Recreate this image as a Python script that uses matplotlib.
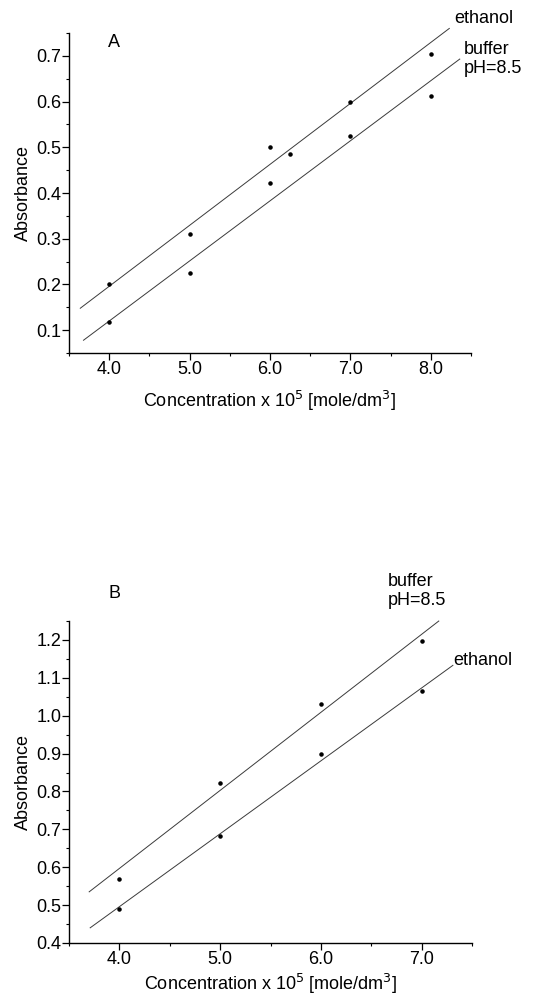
import numpy as np
import matplotlib
matplotlib.use('Agg')
import matplotlib.pyplot as plt
from matplotlib.ticker import MultipleLocator, FormatStrFormatter

plt.rcParams['font.family'] = ['Liberation Sans', 'DejaVu Sans']

# Panel A data
a_eth_x = [4.0, 5.0, 6.0, 6.25, 7.0, 8.0]
a_eth_y = [0.200, 0.310, 0.500, 0.485, 0.600, 0.705]
a_buf_x = [4.0, 5.0, 6.0, 7.0, 8.0]
a_buf_y = [0.117, 0.225, 0.423, 0.525, 0.613]
a_eth_fit_x = [3.64, 8.23]
a_eth_fit_y = [0.148, 0.760]
a_buf_fit_x = [3.68, 8.36]
a_buf_fit_y = [0.078, 0.693]

# Panel B data
b_buf_x = [4.0, 5.0, 6.0, 7.0]
b_buf_y = [0.570, 0.822, 1.032, 1.197]
b_eth_x = [4.0, 5.0, 6.0, 7.0]
b_eth_y = [0.490, 0.683, 0.900, 1.065]
b_buf_fit_x = [3.70, 7.17]
b_buf_fit_y = [0.535, 1.250]
b_eth_fit_x = [3.71, 7.31]
b_eth_fit_y = [0.440, 1.133]

xlabel = r'Concentration x 10$^5$ [mole/dm$^3$]'
FS = 13

fig = plt.figure(figsize=(5.33, 9.97), dpi=100)
axA = fig.add_axes([0.1295, 0.6459, 0.7542, 0.3210])
axB = fig.add_axes([0.1295, 0.0542, 0.7561, 0.3229])


def style(ax, xlim, ylim, xpad):
    ax.set_xlim(*xlim)
    ax.set_ylim(*ylim)
    ax.spines['top'].set_visible(False)
    ax.spines['right'].set_visible(False)
    ax.xaxis.set_major_locator(MultipleLocator(1.0))
    ax.xaxis.set_minor_locator(MultipleLocator(0.5))
    ax.yaxis.set_major_locator(MultipleLocator(0.1))
    ax.yaxis.set_minor_locator(MultipleLocator(0.05))
    ax.xaxis.set_major_formatter(FormatStrFormatter('%.1f'))
    ax.yaxis.set_major_formatter(FormatStrFormatter('%.1f'))
    ax.tick_params(which='major', direction='out', length=5, width=0.9, labelsize=FS, pad=0.5)
    ax.tick_params(which='minor', direction='out', length=2.2, width=0.8)
    ax.set_xlabel(xlabel, fontsize=FS, labelpad=xpad)
    ax.set_ylabel('Absorbance', fontsize=FS, labelpad=3)
    for s in ('left', 'bottom'):
        ax.spines[s].set_linewidth(1.0)


line_kw = dict(color='#3a3a3a', lw=0.7, clip_on=False)
dot_kw = dict(s=5, color='black', zorder=3, clip_on=False)

# Panel A
axA.plot(a_eth_fit_x, a_eth_fit_y, **line_kw)
axA.plot(a_buf_fit_x, a_buf_fit_y, **line_kw)
axA.scatter(a_eth_x, a_eth_y, **dot_kw)
axA.scatter(a_buf_x, a_buf_y, **dot_kw)
style(axA, (3.5, 8.5), (0.05, 0.75), 8)
axA.text(3.98, 0.73, 'A', fontsize=FS, va='center')
axA.text(8.29, 0.781, 'ethanol', fontsize=FS, va='center', clip_on=False)
axA.text(8.41, 0.693, 'buffer\npH=8.5', fontsize=FS, va='center', clip_on=False, linespacing=1.1)

# Panel B
axB.plot(b_buf_fit_x, b_buf_fit_y, **line_kw)
axB.plot(b_eth_fit_x, b_eth_fit_y, **line_kw)
axB.scatter(b_buf_x, b_buf_y, **dot_kw)
axB.scatter(b_eth_x, b_eth_y, **dot_kw)
style(axB, (3.5, 7.5), (0.4, 1.25), 3)
axB.text(3.89, 1.323, 'B', fontsize=FS, va='center', clip_on=False)
axB.text(6.66, 1.329, 'buffer\npH=8.5', fontsize=FS, va='center', clip_on=False, linespacing=1.1)
axB.text(7.31, 1.147, 'ethanol', fontsize=FS, va='center', clip_on=False)

fig.savefig('out.png', dpi=100)
